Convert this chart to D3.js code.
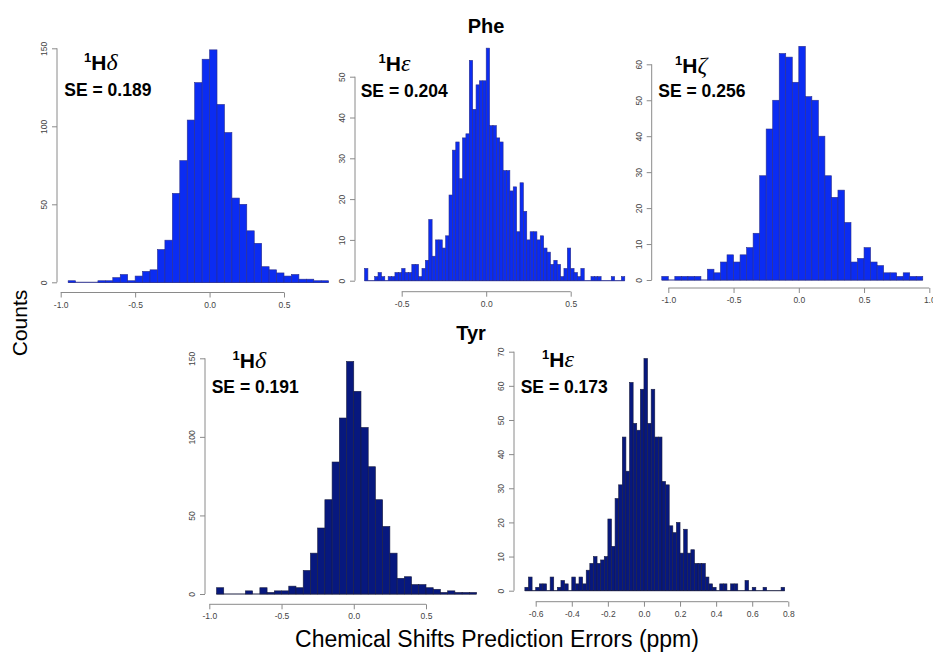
<!DOCTYPE html>
<html>
<head>
<meta charset="utf-8">
<script src="https://cdn.jsdelivr.net/npm/d3@7"></script>
<style>
  body { margin: 0; background: #fff; }
  svg { display: block; font-family: "Liberation Sans", Arial, sans-serif; }
</style>
</head>
<body>
<script>
// ---- data ----
// each histogram: [first bin start, bin width] and counts left to right

// Phe 1H delta
const pheHdBins = [-0.95, 0.05];
const pheHdCounts = [1, 0, 0, 0, 1, 1, 3, 5, 1, 4, 7, 8, 21, 27, 57, 78, 104, 128, 143,
  149, 114, 96, 54, 50, 33, 25, 10, 8, 6, 4, 5, 2, 2, 1, 1];
const pheHdXTicks = [-1.0, -0.5, 0.0, 0.5];
const pheHdXLabels = ["-1.0", "-0.5", "0.0", "0.5"];
const pheHdYTicks = [0, 50, 100, 150];

// Phe 1H epsilon
const pheHeBins = [-0.72, 0.02];
const pheHeCounts = [3, 0, 0, 1, 2, 1, 0, 1, 1, 2, 2, 3, 2, 2, 4, 4, 1, 3, 5, 15,
  6, 10, 10, 8, 11, 21, 32, 34, 25, 35, 36, 54, 42, 48, 49, 49,
  57, 38, 38, 35, 34, 27, 27, 22, 23, 12, 24, 17, 10, 12, 12, 10, 11, 8, 7, 4,
  5, 4, 1, 3, 8, 3, 2, 1, 3, 0, 0, 1, 1, 1, 0, 0, 0, 1, 0, 0, 1];
const pheHeXTicks = [-0.5, 0.0, 0.5];
const pheHeXLabels = ["-0.5", "0.0", "0.5"];
const pheHeYTicks = [0, 10, 20, 30, 40, 50];

// Phe 1H zeta
const pheHzBins = [-1.05, 0.05];
const pheHzCounts = [1, 0, 1, 1, 1, 1, 0, 3, 2, 5, 7, 5, 7, 9, 13, 29, 42, 50, 63, 62, 55,
  65, 51, 50, 40, 29, 23, 25, 16, 5, 6, 9, 5, 4, 2, 2, 1, 2, 1, 1];
const pheHzXTicks = [-1.0, -0.5, 0.0, 0.5, 1.0];
const pheHzXLabels = ["-1.0", "-0.5", "0.0", "0.5", "1.0"];
const pheHzYTicks = [0, 10, 20, 30, 40, 50, 60];

// Tyr 1H delta
const tyrHdBins = [-0.95, 0.05];
const tyrHdCounts = [4, 0, 0, 0, 2, 0, 4, 1, 2, 2, 5, 4, 15, 26, 42, 60, 84, 112, 148,
  129, 106, 81, 60, 43, 26, 10, 11, 6, 6, 4, 3, 1, 2, 1, 1, 1];
const tyrHdXTicks = [-1.0, -0.5, 0.0, 0.5];
const tyrHdXLabels = ["-1.0", "-0.5", "0.0", "0.5"];
const tyrHdYTicks = [0, 50, 100, 150];

// Tyr 1H epsilon
const tyrHeBins = [-0.66, 0.02];
const tyrHeCounts = [1, 4, 0, 1, 2, 2, 0, 4, 0, 1, 3, 2, 0, 4, 2, 4, 2, 6, 8, 10, 8, 9, 10,
  21, 13, 27, 31, 45, 35, 61, 49, 47, 59,
  68, 49, 59, 45, 45, 32, 31, 19, 17, 20, 11, 18, 11, 12, 8, 8, 8, 4, 2, 1, 0,
  2, 2, 0, 2, 2, 0, 0, 3, 0, 1, 0, 0, 1, 0, 0, 0, 0, 1];
const tyrHeXTicks = [-0.6, -0.4, -0.2, 0.0, 0.2, 0.4, 0.6, 0.8];
const tyrHeXLabels = ["-0.6", "-0.4", "-0.2", "0.0", "0.2", "0.4", "0.6", "0.8"];
const tyrHeYTicks = [0, 10, 20, 30, 40, 50, 60, 70];

const pheFill = "#0b2cf2", pheEdge = "#2b2f8c";
const tyrFill = "#07187e", tyrEdge = "#1b1f40";

// ---- layout (pixel positions of the first/last ticks) ----
const panels = [
  { bins: pheHdBins, counts: pheHdCounts, xt: pheHdXTicks, xl: pheHdXLabels, yt: pheHdYTicks,
    fill: pheFill, edge: pheEdge, xr: [60.7, 284], yr: [282.3, 48.3], ax: 57, ay: 292.5,
    greek: "\u03B4", se: "SE = 0.189", lab: [84, 70], seAt: [64.3, 96] },
  { bins: pheHeBins, counts: pheHeCounts, xt: pheHeXTicks, xl: pheHeXLabels, yt: pheHeYTicks,
    fill: pheFill, edge: pheEdge, xr: [401.7, 570.7], yr: [280.7, 76.7], ax: 355, ay: 291.7,
    greek: "\u03B5", se: "SE = 0.204", lab: [378.5, 70.7], seAt: [360.7, 96.7] },
  { bins: pheHzBins, counts: pheHzCounts, xt: pheHzXTicks, xl: pheHzXLabels, yt: pheHzYTicks,
    fill: pheFill, edge: pheEdge, xr: [668.3, 929.3], yr: [280, 64.3], ax: 651.7, ay: 288,
    greek: "\u03B6", se: "SE = 0.256", lab: [675, 72.7], seAt: [658.3, 96.7] },
  { bins: tyrHdBins, counts: tyrHdCounts, xt: tyrHdXTicks, xl: tyrHdXLabels, yt: tyrHdYTicks,
    fill: tyrFill, edge: tyrEdge, xr: [209.3, 426], yr: [594, 358.3], ax: 205, ay: 604.3,
    greek: "\u03B4", se: "SE = 0.191", lab: [232.5, 367.7], seAt: [211.7, 393.3] },
  { bins: tyrHeBins, counts: tyrHeCounts, xt: tyrHeXTicks, xl: tyrHeXLabels, yt: tyrHeYTicks,
    fill: tyrFill, edge: tyrEdge, xr: [535.7, 788.3], yr: [590.7, 351.7], ax: 514, ay: 601.7,
    greek: "\u03B5", se: "SE = 0.173", lab: [542, 366.7], seAt: [520.7, 393.3] }
];

const width = 933, height = 653;

const svg = d3.select("body")
  .append("svg")
  .attr("width", width)
  .attr("height", height);

svg.append("rect").attr("width", width).attr("height", height).attr("fill", "#fff");

panels.forEach(p => {
  const x = d3.scaleLinear()
    .domain([p.xt[0], p.xt[p.xt.length - 1]])
    .range(p.xr);
  const y = d3.scaleLinear()
    .domain([p.yt[0], p.yt[p.yt.length - 1]])
    .range(p.yr);

  const [start, w] = p.bins;
  const data = p.counts.map((c, i) => ({ x0: start + i * w, x1: start + (i + 1) * w, c }));
  const g = svg.append("g");

  // baseline under the bins (empty bins show as a line, like R)
  g.append("line")
    .attr("x1", x(data[0].x0)).attr("x2", x(data[data.length - 1].x1))
    .attr("y1", y(0)).attr("y2", y(0))
    .attr("stroke", p.edge).attr("stroke-width", 1);

  g.selectAll("rect")
    .data(data.filter(d => d.c > 0))
    .enter()
    .append("rect")
    .attr("x", d => x(d.x0))
    .attr("width", d => x(d.x1) - x(d.x0))
    .attr("y", d => y(d.c))
    .attr("height", d => y(0) - y(d.c))
    .attr("fill", p.fill)
    .attr("stroke", p.edge)
    .attr("stroke-width", 0.6);

  // x axis, R style: line only between first and last tick
  const xa = g.append("g")
    .attr("transform", `translate(0,${p.ay})`)
    .call(d3.axisBottom(x).tickValues(p.xt).tickSize(5).tickSizeOuter(0).tickPadding(4)
      .tickFormat((d, i) => p.xl[i]));
  xa.select(".domain").remove();
  xa.append("line")
    .attr("x1", x(p.xt[0])).attr("x2", x(p.xt[p.xt.length - 1]))
    .attr("stroke", "#8a8a8a");

  // y axis with labels parallel to the axis
  const ya = g.append("g")
    .attr("transform", `translate(${p.ax},0)`)
    .call(d3.axisLeft(y).tickValues(p.yt).tickSize(5).tickSizeOuter(0));
  ya.select(".domain").remove();
  ya.append("line")
    .attr("y1", y(p.yt[0])).attr("y2", y(p.yt[p.yt.length - 1]))
    .attr("stroke", "#8a8a8a");
  ya.selectAll("text")
    .attr("transform", "rotate(-90)")
    .attr("x", 0).attr("y", -10).attr("dy", 0)
    .attr("text-anchor", "middle");

  g.selectAll(".tick line").attr("stroke", "#8a8a8a");
  g.selectAll(".tick text")
    .attr("fill", "#444")
    .style("font-size", "8.5px")
    .style("font-family", "'Liberation Sans', Arial, sans-serif");

  // nucleus label
  const lab = g.append("text")
    .attr("x", p.lab[0]).attr("y", p.lab[1])
    .attr("font-weight", "bold")
    .style("font-size", "21px");
  lab.append("tspan").attr("dy", -8).style("font-size", "13px").text("1");
  lab.append("tspan").attr("dy", 8).text("H");
  lab.append("tspan")
    .style("font-family", "'Liberation Serif', 'DejaVu Serif', serif")
    .style("font-style", "italic")
    .style("font-weight", "normal")
    .style("font-size", "24px")
    .text(p.greek);

  g.append("text")
    .attr("x", p.seAt[0]).attr("y", p.seAt[1])
    .attr("font-weight", "bold")
    .style("font-size", "17.5px")
    .text(p.se);
});

// group titles and shared axis titles
svg.append("text")
  .attr("x", 486).attr("y", 33)
  .attr("text-anchor", "middle")
  .attr("font-weight", "bold")
  .style("font-size", "20px")
  .text("Phe");

svg.append("text")
  .attr("x", 471).attr("y", 340)
  .attr("text-anchor", "middle")
  .attr("font-weight", "bold")
  .style("font-size", "20px")
  .text("Tyr");

svg.append("text")
  .attr("transform", "translate(27,323) rotate(-90)")
  .attr("text-anchor", "middle")
  .style("font-size", "21px")
  .text("Counts");

svg.append("text")
  .attr("x", 497).attr("y", 647)
  .attr("text-anchor", "middle")
  .style("font-size", "23px")
  .text("Chemical Shifts Prediction Errors (ppm)");
</script>
</body>
</html>
